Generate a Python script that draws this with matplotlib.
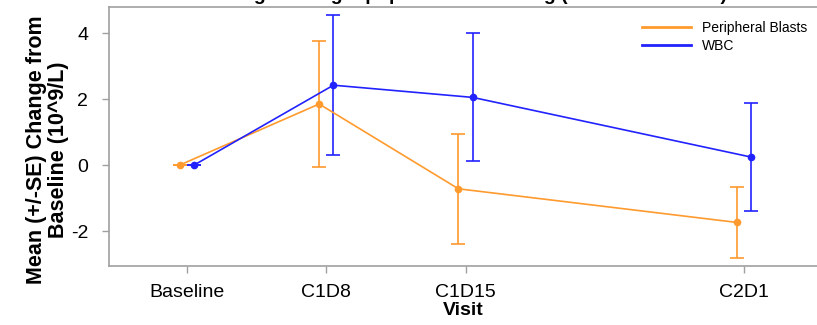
import matplotlib
matplotlib.use("Agg")
import matplotlib.pyplot as plt
import numpy as np
from matplotlib.lines import Line2D

plt.rcParams['font.family'] = ['Liberation Sans', 'DejaVu Sans']

visits = ["Baseline", "C1D8", "C1D15", "C2D1"]
visit_days = [0, 7, 14, 28]

blasts_mean = [0.0, 1.85, -0.72, -1.74]
blasts_se = [0.0, 1.92, 1.66, 1.08]
wbc_mean = [0.0, 2.42, 2.05, 0.24]
wbc_se = [0.0, 2.12, 1.94, 1.64]

orange = '#FF9A2E'
blue = '#2222FF'

fig = plt.figure(figsize=(8.17, 3.25), dpi=100)
ax = fig.add_axes([109/817, 1-266/325, 1-109/817, (266-7)/325])

days = np.array(visit_days, dtype=float)
off = 0.36
ax.errorbar(days - off, blasts_mean, yerr=blasts_se, color=orange, lw=1.2,
            marker='o', ms=4.5, capsize=5, elinewidth=1.2, capthick=1.2,
            label='Peripheral Blasts')
ax.errorbar(days + off, wbc_mean, yerr=wbc_se, color=blue, lw=1.2,
            marker='o', ms=4.5, capsize=5, elinewidth=1.2, capthick=1.2,
            label='WBC')

ax.set_xlim(-3.92, 31.66)
ax.set_ylim(-3.06, 4.79)
ax.set_xticks(visit_days)
ax.set_xticklabels(visits, fontsize=14)
ax.set_yticks([-2, 0, 2, 4])
ax.set_yticklabels(['-2', '0', '2', '4'], fontsize=14)
for s in ['left', 'bottom', 'top']:
    ax.spines[s].set_color('#A0A0A0')
    ax.spines[s].set_linewidth(1.2)
ax.spines['right'].set_visible(False)
ax.tick_params(axis='both', colors='#A0A0A0', length=5, width=1, labelcolor='black')
ax.tick_params(axis='x', pad=8)
ax.tick_params(axis='y', pad=10)

ax.set_xlabel('Visit', fontsize=14, fontweight='bold', labelpad=1)
ax.set_ylabel('Mean (+/-SE) Change from\nBaseline (10^9/L)', fontsize=15.5,
              fontweight='bold', linespacing=1.05)
ax.yaxis.set_label_coords(-0.057, 0.45)

handles = [Line2D([], [], color=orange, lw=2), Line2D([], [], color=blue, lw=2)]
ax.legend(handles, ['Peripheral Blasts', 'WBC'], loc='upper right',
          bbox_to_anchor=(1.0, 0.985), frameon=False, fontsize=10,
          handlelength=3.5, labelspacing=0.3, borderaxespad=0.3)

fig.text(0.57, 1 - 0.5/325, 'Change of target population following (Absolute counts)',
         ha='center', va='baseline', fontsize=14, fontweight='bold')

fig.savefig('out.png', dpi=100)
